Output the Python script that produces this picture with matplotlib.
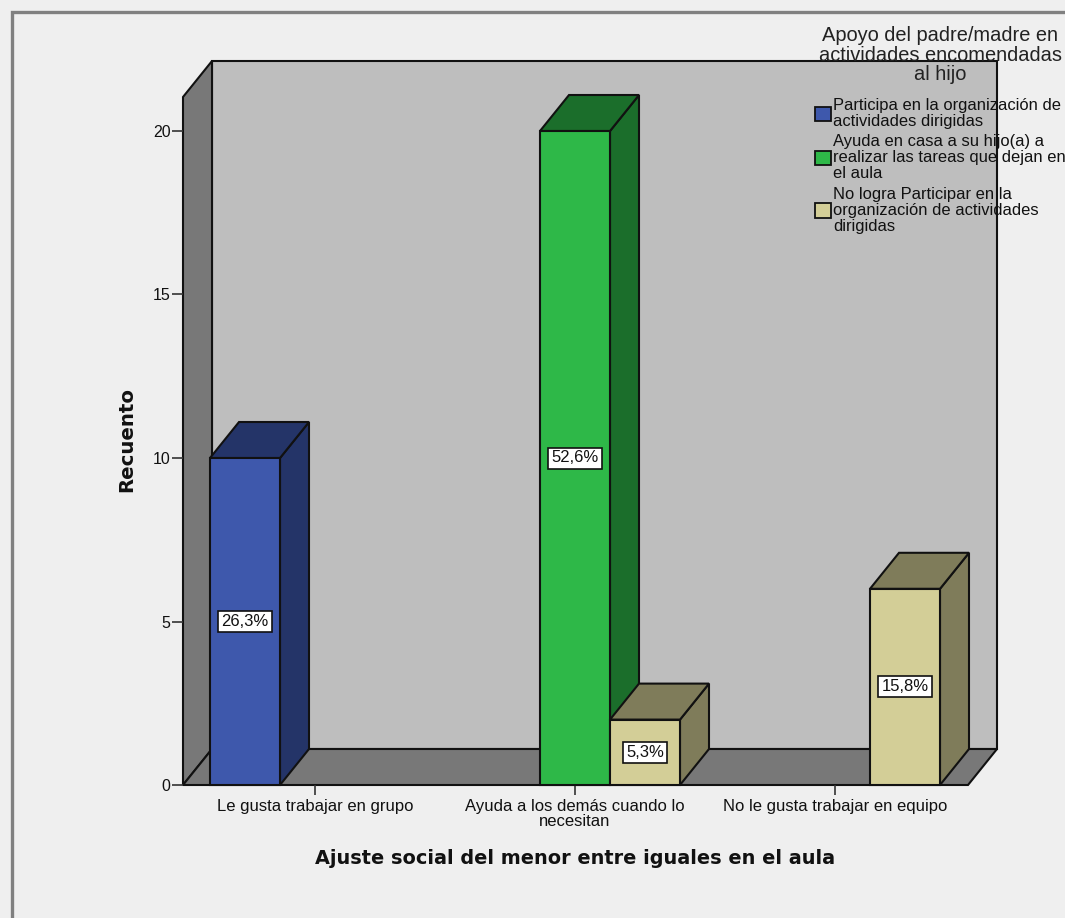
import matplotlib
matplotlib.use("Agg")
import matplotlib.pyplot as plt
from matplotlib.patches import Polygon, Patch, Rectangle

categories = ["Le gusta trabajar en grupo", "Ayuda a los demás cuando lo\nnecesitan", "No le gusta trabajar en equipo"]
series_names = ["Participa en la organización de\nactividades dirigidas",
                "Ayuda en casa a su hijo(a) a\nrealizar las tareas que dejan en\nel aula",
                "No logra Participar en la\norganización de actividades\ndirigidas"]
values = [[10, 0, 0], [0, 20, 0], [0, 2, 6]]
pct_labels = [["26,3%", None, None], [None, "52,6%", None], [None, "5,3%", "15,8%"]]
front_colors = ["#3E58AC", "#2EB848", "#D3CE97"]
dark_colors = ["#243468", "#1B6E2B", "#7F7C5A"]
yticks = [0, 5, 10, 15, 20]
legend_title = "Apoyo del padre/madre en\nactividades encomendadas\nal hijo"
xlabel = "Ajuste social del menor entre iguales en el aula"
ylabel = "Recuento"

W, H = 1065, 918
plt.rcParams['font.family'] = ['Liberation Sans', 'DejaVu Sans']
fig = plt.figure(figsize=(W/100, H/100), dpi=100, facecolor="#EFEFEF")
L, R, T, B = 183, 968, 97, 785
ax = fig.add_axes([L/W, 1-B/H, (R-L)/W, (B-T)/H])
ax.patch.set_visible(False)
px_x = 260.0
px_y = 32.7
ax.set_xlim((L-315)/px_x, (R-315)/px_x)
ax.set_ylim(0, (B-T)/px_y)
dx, dy = 29/px_x, 36/px_y
x0, x1 = ax.get_xlim()
y0, y1 = ax.get_ylim()
lw = 1.5
edge = "#111111"

def poly(pts, fc, z):
    ax.add_patch(Polygon(pts, closed=True, fc=fc, ec=edge, lw=lw, zorder=z, clip_on=False, joinstyle="miter"))

poly([(x0+dx, y0+dy), (x1+dx, y0+dy), (x1+dx, y1+dy), (x0+dx, y1+dy)], "#BEBEBE", 1)
poly([(x0, y0), (x0+dx, y0+dy), (x0+dx, y1+dy), (x0, y1)], "#787878", 1.1)
poly([(x0, y0), (x1, y0), (x1+dx, y0+dy), (x0+dx, y0+dy)], "#787878", 1.2)

w = 70/px_x
order = 2
for c in range(3):
    for s in range(3):
        v = values[s][c]
        if v == 0:
            continue
        xa = c + (s-1)*w - w/2
        xb = xa + w
        order += 0.1
        poly([(xb, 0), (xb+dx, dy), (xb+dx, v+dy), (xb, v)], dark_colors[s], order)
        poly([(xa, v), (xb, v), (xb+dx, v+dy), (xa+dx, v+dy)], dark_colors[s], order)
        poly([(xa, 0), (xb, 0), (xb, v), (xa, v)], front_colors[s], order)
        ax.text((xa+xb)/2, v/2, pct_labels[s][c], ha="center", va="center", fontsize=12,
                color="#111111", zorder=order+0.05,
                bbox=dict(boxstyle="square,pad=0.18", fc="white", ec="#111111", lw=1.2))

for sp in ["top", "right", "left", "bottom"]:
    ax.spines[sp].set_visible(False)
ax.set_xticks(range(3))
ax.set_xticklabels(categories, fontsize=12, color="#111111", linespacing=1.0)
ax.set_yticks(yticks)
ax.set_yticklabels([str(t) for t in yticks], fontsize=11.5, color="#111111")
ax.tick_params(axis="x", length=7, width=1.2, pad=3, color="#333333")
ax.tick_params(axis="y", length=8, width=1.2, pad=1, color="#333333")
ax.set_xlabel(xlabel, fontsize=13.9, fontweight="bold", family="DejaVu Sans", labelpad=0, color="#111111")
ax.xaxis.set_label_coords((575-L)/(R-L), -(859-B)/(B-T), transform=ax.transAxes)
ax.xaxis.label.set_va("center")
ax.set_ylabel(ylabel, fontsize=14.2, fontweight="bold", family="DejaVu Sans", color="#111111")
ax.yaxis.set_label_coords((127-L)/(R-L), (B-440)/(B-T), transform=ax.transAxes)
ax.yaxis.label.set_va("center")

fig.add_artist(Rectangle((12/W, -0.1), 1.2, 1.1-12/H, transform=fig.transFigure, fill=False, ec="#808080", lw=2.4))

handles = [Patch(fc=front_colors[i], ec=edge, lw=1.3) for i in range(3)]
leg = fig.legend(handles, series_names, title=legend_title, loc="upper left",
                 bbox_to_anchor=(815/W, 1-26/H), frameon=False, fontsize=11.85,
                 title_fontsize=14.4, labelspacing=0.33, handlelength=0.95, handleheight=0.95,
                 handletextpad=0.15, borderpad=0, borderaxespad=0)
leg.set_zorder(50)
leg._legend_box.sep = 9.7
for t in leg.get_texts():
    t.set_linespacing(1.08)
    t.set_color("#111111")
leg.get_title().set_linespacing(1.05)
leg.get_title().set_color("#222222")
leg.get_title().set_multialignment("center")
fig.savefig("out.png", dpi=100, facecolor=fig.get_facecolor())
